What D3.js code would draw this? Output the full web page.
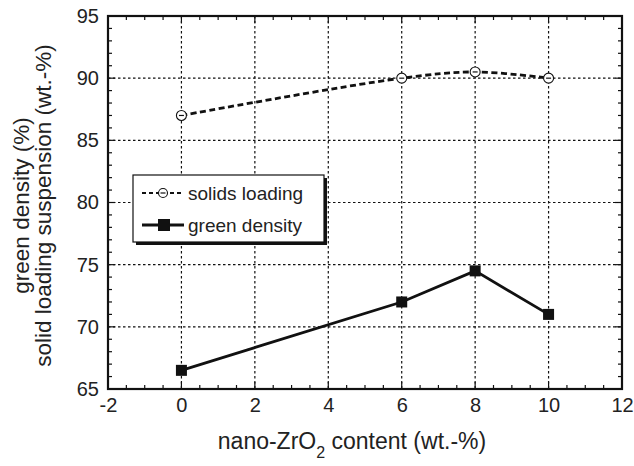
<!DOCTYPE html>
<html><head><meta charset="utf-8">
<script src="https://cdn.jsdelivr.net/npm/d3@7"></script>
<style>body{margin:0;background:#fff;} text{font-family:"Liberation Sans",Arial,Helvetica,sans-serif;fill:#222;}</style>
</head><body>
<svg id="c" width="634" height="466"></svg>
<script>
const contentX = [0, 6, 8, 10];
const solidsLoading = [87, 90, 90.5, 90];
const greenDensity = [66.5, 72, 74.5, 71];
const xTicks = [-2, 0, 2, 4, 6, 8, 10, 12];
const yTicks = [65, 70, 75, 80, 85, 90, 95];
const legendLabels = ["solids loading", "green density"];

const svg = d3.select("#c");
const L = 108, R = 622, T = 16, B = 389;
const x = d3.scaleLinear().domain([-2, 12]).range([L, R]);
const y = d3.scaleLinear().domain([65, 95]).range([B, T]);
const FF = "Liberation Sans, Arial, sans-serif";

// grid
const g = svg.append("g");
g.selectAll(".vg").data(xTicks.filter(d => d > -2 && d < 12)).enter().append("line")
  .attr("x1", d => x(d)).attr("x2", d => x(d)).attr("y1", T).attr("y2", B)
  .attr("stroke", "#111").attr("stroke-width", 1.2).attr("stroke-dasharray", "2.5,2.5");
g.selectAll(".hg").data(yTicks.filter(d => d > 65 && d < 95)).enter().append("line")
  .attr("x1", L).attr("x2", R).attr("y1", d => y(d)).attr("y2", d => y(d))
  .attr("stroke", "#111").attr("stroke-width", 1.2).attr("stroke-dasharray", "2.5,2.5");

// minor ticks (inward, all four sides)
const xMinor = d3.range(-2, 12.01, 0.5);
const yMinor = d3.range(65, 95.01, 1);
const tk = svg.append("g").attr("stroke", "#111").attr("stroke-width", 1.2);
xMinor.forEach(v => {
  const len = Number.isInteger(v / 2) ? 7 : 4;
  tk.append("line").attr("x1", x(v)).attr("x2", x(v)).attr("y1", B).attr("y2", B - len);
  tk.append("line").attr("x1", x(v)).attr("x2", x(v)).attr("y1", T).attr("y2", T + len);
});
yMinor.forEach(v => {
  const len = (v % 5 === 0) ? 7 : 4;
  tk.append("line").attr("y1", y(v)).attr("y2", y(v)).attr("x1", L).attr("x2", L + len);
  tk.append("line").attr("y1", y(v)).attr("y2", y(v)).attr("x1", R).attr("x2", R - len);
});

// frame
svg.append("rect").attr("x", L).attr("y", T).attr("width", R - L).attr("height", B - T)
  .attr("fill", "none").attr("stroke", "#111").attr("stroke-width", 2.2);

// axes labels via d3 axes
const fmt = d => String(d);
const xAxis = d3.axisBottom(x).tickValues(xTicks).tickFormat(fmt).tickSize(0).tickPadding(9);
const xa = svg.append("g").attr("transform", `translate(0,${B})`).call(xAxis);
xa.select(".domain").remove();
xa.selectAll("text").attr("font-size", 20).attr("fill", "#222").style("font-family", FF);
const yAxis = d3.axisLeft(y).tickValues(yTicks).tickFormat(fmt).tickSize(0).tickPadding(9);
const ya = svg.append("g").attr("transform", `translate(${L},0)`).call(yAxis);
ya.select(".domain").remove();
ya.selectAll("text").attr("font-size", 20).attr("fill", "#222").style("font-family", FF);

// solids loading dashed smooth curve
const solidPts = contentX.map((d, i) => [d, solidsLoading[i]]);
const densPts = contentX.map((d, i) => [d, greenDensity[i]]);
const lineSmooth = d3.line().x(d => x(d[0])).y(d => y(d[1])).curve(d3.curveCatmullRom.alpha(0.5));
svg.append("path").attr("d", lineSmooth(solidPts)).attr("fill", "none")
  .attr("stroke", "#111").attr("stroke-width", 2.8).attr("stroke-dasharray", "6,3.5");
const mk = svg.append("g");
solidPts.forEach(p => {
  mk.append("circle").attr("cx", x(p[0])).attr("cy", y(p[1])).attr("r", 5)
    .attr("fill", "#fff").attr("stroke", "#111").attr("stroke-width", 1.1);
  mk.append("line").attr("x1", x(p[0]) - 2.5).attr("x2", x(p[0]) + 2.5)
    .attr("y1", y(p[1])).attr("y2", y(p[1])).attr("stroke", "#111").attr("stroke-width", 1.2);
});

// green density solid line
const lineStraight = d3.line().x(d => x(d[0])).y(d => y(d[1]));
svg.append("path").attr("d", lineStraight(densPts)).attr("fill", "none")
  .attr("stroke", "#111").attr("stroke-width", 2.8);
densPts.forEach(p => {
  mk.append("rect").attr("x", x(p[0]) - 5.5).attr("y", y(p[1]) - 5.5).attr("width", 11).attr("height", 11)
    .attr("fill", "#111");
});

// legend
const lg = svg.append("g");
const lx = 133, ly = 175, lw = 191, lh = 67;
lg.append("rect").attr("x", lx + 3).attr("y", ly + 3).attr("width", lw).attr("height", lh).attr("fill", "#111");
lg.append("rect").attr("x", lx).attr("y", ly).attr("width", lw).attr("height", lh)
  .attr("fill", "#fff").attr("stroke", "#111").attr("stroke-width", 1.2);
const r1 = ly + 18, r2 = ly + 50;
lg.append("line").attr("x1", 142).attr("x2", 184).attr("y1", r1).attr("y2", r1)
  .attr("stroke", "#111").attr("stroke-width", 2.2).attr("stroke-dasharray", "4,3");
lg.append("circle").attr("cx", 163).attr("cy", r1).attr("r", 4.5).attr("fill", "#fff").attr("stroke", "#111").attr("stroke-width", 1.1);
lg.append("line").attr("x1", 160.5).attr("x2", 165.5).attr("y1", r1).attr("y2", r1).attr("stroke", "#111").attr("stroke-width", 1.2);
lg.append("line").attr("x1", 142).attr("x2", 184).attr("y1", r2).attr("y2", r2)
  .attr("stroke", "#111").attr("stroke-width", 2.8);
lg.append("rect").attr("x", 158).attr("y", r2 - 6).attr("width", 12).attr("height", 12).attr("fill", "#111");
lg.selectAll(".lt").data(legendLabels).enter().append("text")
  .attr("x", 188).attr("y", (d, i) => (i === 0 ? r1 : r2) + 7)
  .attr("font-size", 19).text(d => d);

// axis titles
const xt = svg.append("text").attr("x", 352).attr("y", 449).attr("text-anchor", "middle").attr("font-size", 23);
xt.append("tspan").text("nano-ZrO");
xt.append("tspan").attr("font-size", 16).attr("dy", 9).text("2");
xt.append("tspan").attr("dy", -9).text(" content (wt.-%)");

const yt = svg.append("text").attr("transform", `translate(29,${(T + B) / 2 + 3}) rotate(-90)`).attr("text-anchor", "middle").attr("font-size", 22.5);
yt.append("tspan").attr("x", 0).attr("dy", 0).text("green density (%)");
yt.append("tspan").attr("x", 0).attr("dy", 22).text("solid loading suspension (wt.-%)");
</script>
</body></html>
